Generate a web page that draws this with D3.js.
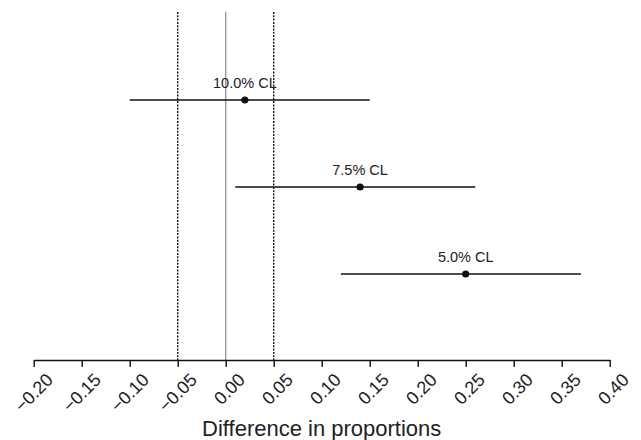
<!DOCTYPE html>
<meta charset="utf-8">
<html>
<head>
    <script src="https://cdn.jsdelivr.net/npm/d3@7"></script>
    <style>
        body { margin: 0; background: #fff; }
        text { font-family: "Liberation Sans", Arial, sans-serif; fill: #222; }
    </style>
</head>
<body>
    <script>
    // confidence limits, top to bottom
    var labels = ["10.0% CL", "7.5% CL", "5.0% CL"];
    var estimate = [0.02, 0.14, 0.25];
    var lower = [-0.10, 0.01, 0.12];
    var upper = [0.15, 0.26, 0.37];
    var tickValues = [-0.20, -0.15, -0.10, -0.05, 0.00, 0.05, 0.10, 0.15, 0.20, 0.25, 0.30, 0.35, 0.40];
    var refLines = [-0.05, 0.05];

    var svg = d3.select("body")
       .append("svg")
       .attr("width", 641)
       .attr("height", 440);

    var xScale = d3.scaleLinear()
       .domain([-0.20, 0.40])
       .range([33.7, 609.7]);

    var yScale = d3.scalePoint()
       .domain(labels)
       .range([100, 274]);

    var axisY = 360;

    // reference lines
    svg.selectAll("line.ref")
       .data(refLines)
       .enter()
       .append("line")
       .attr("class", "ref")
       .attr("x1", function(d) { return xScale(d); })
       .attr("x2", function(d) { return xScale(d); })
       .attr("y1", 12)
       .attr("y2", axisY)
       .attr("stroke", "#111")
       .attr("stroke-width", 1.4)
       .attr("stroke-dasharray", "2,1.3");

    svg.append("line")
       .attr("x1", xScale(0))
       .attr("x2", xScale(0))
       .attr("y1", 12)
       .attr("y2", axisY)
       .attr("stroke", "#999")
       .attr("stroke-width", 1.4);

    var rows = labels.map(function(l, i) {
        return { label: l, est: estimate[i], lo: lower[i], hi: upper[i] };
    });

    svg.selectAll("line.ci")
       .data(rows)
       .enter()
       .append("line")
       .attr("class", "ci")
       .attr("x1", function(d) { return xScale(d.lo); })
       .attr("x2", function(d) { return xScale(d.hi); })
       .attr("y1", function(d) { return yScale(d.label); })
       .attr("y2", function(d) { return yScale(d.label); })
       .attr("stroke", "#111")
       .attr("stroke-width", 1.5);

    svg.selectAll("circle")
       .data(rows)
       .enter()
       .append("circle")
       .attr("cx", function(d) { return xScale(d.est); })
       .attr("cy", function(d) { return yScale(d.label); })
       .attr("r", 3.6)
       .attr("fill", "#111");

    svg.selectAll("text.lab")
       .data(rows)
       .enter()
       .append("text")
       .attr("class", "lab")
       .attr("x", function(d) { return xScale(d.est); })
       .attr("y", function(d) { return yScale(d.label) - 12; })
       .attr("text-anchor", "middle")
       .style("font-size", "14.5px")
       .text(function(d) { return d.label; });

    // x axis
    var xAxis = d3.axisBottom(xScale)
       .tickValues(tickValues)
       .tickSizeInner(7)
       .tickSizeOuter(0)
       .tickFormat(function(d) { return d3.format(".2f")(d).replace("-", "\u2212"); });

    var gx = svg.append("g")
       .attr("transform", "translate(0," + axisY + ")")
       .call(xAxis);

    gx.select(".domain").attr("stroke", "#111").attr("stroke-width", 1.4);
    gx.selectAll(".tick line").attr("stroke", "#111").attr("stroke-width", 1.4);
    gx.selectAll(".tick text")
       .attr("fill", "#222")
       .style("font-size", "18px")
       .attr("text-anchor", "end")
       .attr("dy", null)
       .attr("y", null)
       .attr("transform", "translate(20,21) rotate(-45)");

    svg.append("text")
       .attr("x", (xScale(-0.20) + xScale(0.40)) / 2)
       .attr("y", 436)
       .attr("text-anchor", "middle")
       .style("font-size", "22px")
       .text("Difference in proportions");
    </script>
</body>
</html>
